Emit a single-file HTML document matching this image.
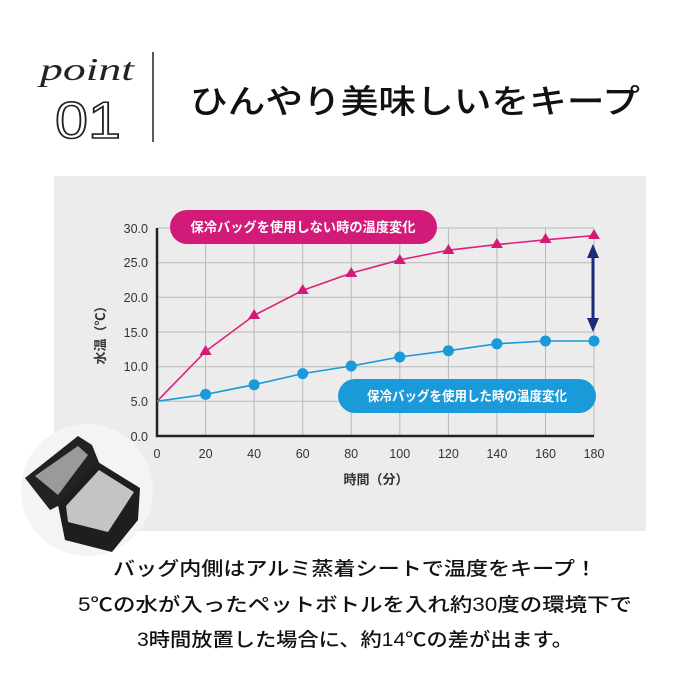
<!DOCTYPE html>
<html><head><meta charset="utf-8"><style>
html,body{margin:0;padding:0;background:#fff;}
svg{display:block;}
text{font-family:"Liberation Sans","Noto Sans CJK JP",sans-serif;}
</style></head><body>
<svg width="700" height="700" viewBox="0 0 700 700" xmlns="http://www.w3.org/2000/svg">
<rect width="700" height="700" fill="#fff"/>
<!-- header -->
<text x="40" y="80" style="font-family:'Liberation Serif',serif;font-style:italic" font-size="32" fill="#222" textLength="94" lengthAdjust="spacingAndGlyphs">point</text>
<text x="55" y="138" font-size="52" fill="#fff" stroke="#222" stroke-width="1.6" textLength="66" lengthAdjust="spacingAndGlyphs">01</text>
<line x1="153" y1="52" x2="153" y2="142" stroke="#222" stroke-width="1.5"/>
<text x="190" y="113" font-size="33" font-weight="500" fill="#111" textLength="450" lengthAdjust="spacingAndGlyphs">ひんやり美味しいをキープ</text>
<!-- panel -->
<rect x="54" y="176" width="592" height="355" fill="#ececec"/>
<!-- grid -->
<g stroke="#b8b8b8" stroke-width="1">
<line x1="157" y1="228" x2="594" y2="228"/><line x1="157" y1="262.7" x2="594" y2="262.7"/><line x1="157" y1="297.3" x2="594" y2="297.3"/><line x1="157" y1="332" x2="594" y2="332"/><line x1="157" y1="366.7" x2="594" y2="366.7"/><line x1="157" y1="401.3" x2="594" y2="401.3"/>
<line x1="205.6" y1="228" x2="205.6" y2="436"/><line x1="254.1" y1="228" x2="254.1" y2="436"/><line x1="302.7" y1="228" x2="302.7" y2="436"/><line x1="351.2" y1="228" x2="351.2" y2="436"/><line x1="399.8" y1="228" x2="399.8" y2="436"/><line x1="448.4" y1="228" x2="448.4" y2="436"/><line x1="496.9" y1="228" x2="496.9" y2="436"/><line x1="545.5" y1="228" x2="545.5" y2="436"/><line x1="594" y1="228" x2="594" y2="436"/>
</g>
<polyline points="157,228 157,436 594,436" fill="none" stroke="#222" stroke-width="2.5"/>
<g font-size="12.5" fill="#333" text-anchor="end">
<text x="148" y="233">30.0</text><text x="148" y="267">25.0</text><text x="148" y="302">20.0</text><text x="148" y="337">15.0</text><text x="148" y="371">10.0</text><text x="148" y="406">5.0</text><text x="148" y="441">0.0</text>
</g>
<g font-size="12.5" fill="#333" text-anchor="middle">
<text x="157" y="458">0</text><text x="205.6" y="458">20</text><text x="254.1" y="458">40</text><text x="302.7" y="458">60</text><text x="351.2" y="458">80</text><text x="399.8" y="458">100</text><text x="448.4" y="458">120</text><text x="496.9" y="458">140</text><text x="545.5" y="458">160</text><text x="594" y="458">180</text>
</g>
<text x="376" y="484" font-size="13" font-weight="bold" fill="#333" text-anchor="middle">時間（分）</text>
<text transform="translate(105,332) rotate(-90)" font-size="13" font-weight="bold" fill="#333" text-anchor="middle">水温（℃）</text>
<!-- series -->
<polyline points="157,401.3 205.6,351.4 254.1,315.4 302.7,290.4 351.2,273.1 399.8,259.9 448.4,250.2 496.9,244.6 545.5,239.8 594,235.6" fill="none" stroke="#e0217a" stroke-width="1.6"/>
<g fill="#d21a79">
<path d="M205.6,345l6,10h-12z"/><path d="M254.1,309l6,10h-12z"/><path d="M302.7,284l6,10h-12z"/><path d="M351.2,267l6,10h-12z"/><path d="M399.8,254l6,10h-12z"/><path d="M448.4,244l6,10h-12z"/><path d="M496.9,238l6,10h-12z"/><path d="M545.5,233l6,10h-12z"/><path d="M594,229l6,10h-12z"/>
</g>
<polyline points="157,401.3 205.6,394.4 254.1,384.7 302.7,373.6 351.2,366 399.8,357 448.4,350.7 496.9,343.8 545.5,341 594,341" fill="none" stroke="#1a9ad8" stroke-width="1.6"/>
<g fill="#1a9ad8">
<circle cx="205.6" cy="394.4" r="5.5"/><circle cx="254.1" cy="384.7" r="5.5"/><circle cx="302.7" cy="373.6" r="5.5"/><circle cx="351.2" cy="366" r="5.5"/><circle cx="399.8" cy="357" r="5.5"/><circle cx="448.4" cy="350.7" r="5.5"/><circle cx="496.9" cy="343.8" r="5.5"/><circle cx="545.5" cy="341" r="5.5"/><circle cx="594" cy="341" r="5.5"/>
</g>
<!-- arrow -->
<line x1="593" y1="254" x2="593" y2="322" stroke="#1c2a7a" stroke-width="3"/>
<path d="M593,244l6,14h-12z M593,332l6,-14h-12z" fill="#1c2a7a"/>
<!-- pills -->
<rect x="170" y="210" width="267" height="34" rx="17" fill="#d21a79"/>
<text x="303" y="232" font-size="13.5" font-weight="bold" fill="#fff" text-anchor="middle" textLength="225" lengthAdjust="spacingAndGlyphs">保冷バッグを使用しない時の温度変化</text>
<rect x="338" y="379" width="258" height="34" rx="17" fill="#1a9ad8"/>
<text x="467" y="401" font-size="13.5" font-weight="bold" fill="#fff" text-anchor="middle" textLength="200" lengthAdjust="spacingAndGlyphs">保冷バッグを使用した時の温度変化</text>
<!-- bag photo -->
<circle cx="87" cy="490" r="66" fill="#f4f4f4"/>
<path d="M25,478 L78,436 L92,445 L100,465 L60,505 L50,510 Z" fill="#222"/>
<path d="M35,476 L78,446 L88,455 L58,495 Z" fill="#9a9a9a"/>
<path d="M58,505 L98,462 L140,488 L138,520 L112,552 L65,540 Z" fill="#1e1e1e"/>
<path d="M66,506 L99,470 L134,492 L108,532 L68,522 Z" fill="#c4c4c4"/>
<!-- bottom text -->
<g font-size="19" font-weight="500" fill="#111" text-anchor="middle">
<text x="355" y="575" textLength="484" lengthAdjust="spacingAndGlyphs">バッグ内側はアルミ蒸着シートで温度をキープ！</text>
<text x="355" y="611" textLength="554" lengthAdjust="spacingAndGlyphs">5℃の水が入ったペットボトルを入れ約30度の環境下で</text>
<text x="355" y="646" textLength="436" lengthAdjust="spacingAndGlyphs">3時間放置した場合に、約14℃の差が出ます。</text>
</g>
</svg>
</body></html>
